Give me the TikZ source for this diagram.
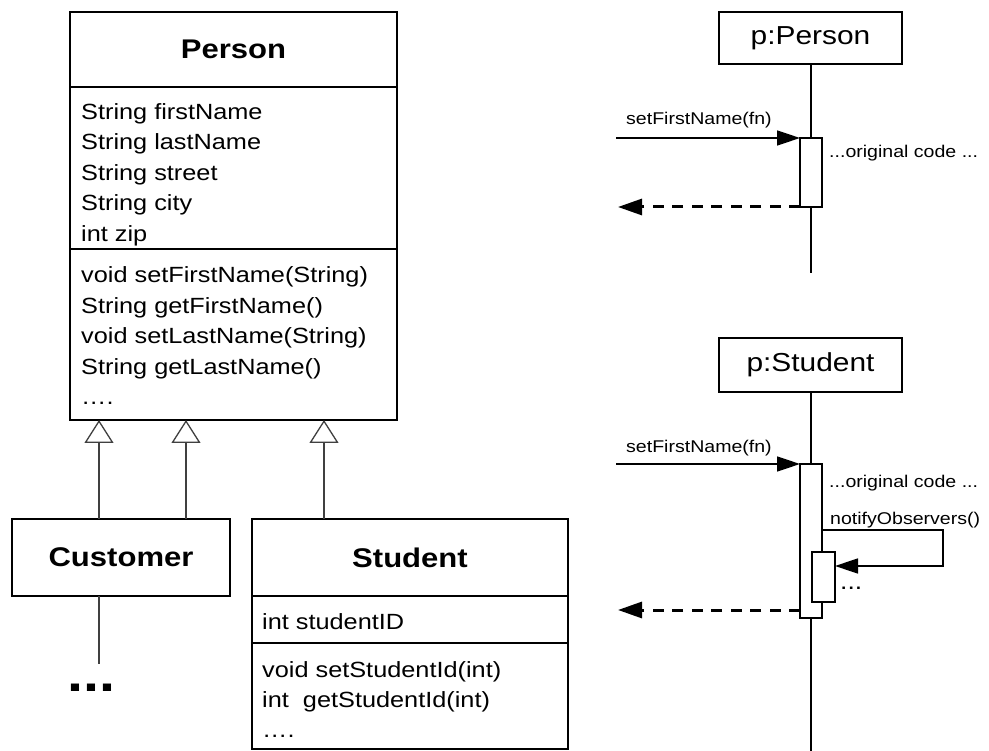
\documentclass[tikz,border=0pt]{standalone}
\usepackage{fontspec}
\setmainfont{Liberation Sans}[FakeStretch=1.15]
\usetikzlibrary{arrows.meta}

\begin{document}
\begin{tikzpicture}[x=1pt,y=-1pt,
  box/.style={draw=black, line width=1.5pt, fill=white, inner sep=0pt, outer sep=0pt},
  divider/.style={draw=black, line width=1.5pt},
  ctitle/.style={font=\bfseries\fontsize{27}{27}\selectfont, inner sep=0pt},
  member/.style={anchor=base west, inner sep=0pt, font=\fontsize{22}{22}\selectfont},
  gen/.style={draw=black!75, line width=1.3pt, -{Triangle[open, length=23pt, width=29pt, line width=1.3pt, fill=white]}},
  assoc/.style={draw=black!75, line width=1.3pt},
  obj/.style={box, minimum width=183pt, font=\fontsize{26}{26}\selectfont},
  act/.style={box, minimum width=22pt},
  life/.style={draw=black, line width=1.5pt},
  msg/.style={draw=black, line width=1.5pt, -{Triangle[length=23pt, width=15pt]}},
  ret/.style={draw=black, line width=3pt, dash pattern=on 11pt off 8.5pt, -{Triangle[length=24pt, width=16pt]}},
  lbl/.style={anchor=base west, inner sep=0pt, font=\fontsize{17}{17}\selectfont}]

\useasboundingbox (0,0) rectangle (989,751);

% ---------- class Person ----------
\node[box, anchor=north west, minimum width=327pt, minimum height=408pt] (person) at (70,12) {};
\node[ctitle] (personT) at (233.5,49.5) {Person};
\draw[divider] (person.west |- 0,87) -- (person.east |- 0,87);
\draw[divider] (person.west |- 0,249) -- (person.east |- 0,249);
\foreach \t [count=\i from 0] in {String firstName, String lastName, String street, String city, int zip}
  \node[member] (pattr\i) at (81,{119.5+30.5*\i}) {\t};
\foreach \t [count=\i from 0] in {void setFirstName(String), String getFirstName(), void setLastName(String), String getLastName(), ….}
  \node[member] (pop\i) at (81,{283+30.5*\i}) {\t};

% ---------- class Customer ----------
\node[box, anchor=north west, minimum width=218pt, minimum height=77pt] (cust) at (12,519) {};
\node[ctitle] (custT) at (cust.center) {Customer};
\coordinate (custEnd) at (99,664);
\draw[assoc] (cust.south -| custEnd) -- (custEnd);
\node[anchor=base west, inner sep=0pt, font=\bfseries\fontsize{50}{50}\selectfont] (more) at (67.5,691) {...};

% ---------- class Student ----------
\node[box, anchor=north west, minimum width=316pt, minimum height=230pt] (stud) at (252,519) {};
\node[ctitle] (studT) at (410,557.5) {Student};
\draw[divider] (stud.west |- 0,596) -- (stud.east |- 0,596);
\draw[divider] (stud.west |- 0,643) -- (stud.east |- 0,643);
\node[member] (sattr) at (262,629) {int studentID};
\foreach \t [count=\i from 0] in {void setStudentId(int), int\ \ getStudentId(int), ….}
  \node[member] (sop\i) at (262,{677+30*\i}) {\t};

% ---------- generalisations ----------
\draw[gen] ([xshift=87pt]cust.north west) -- ([xshift=87pt]cust.north west |- person.south);
\draw[gen] ([xshift=174pt]cust.north west) -- ([xshift=174pt]cust.north west |- person.south);
\draw[gen] ([xshift=72pt]stud.north west) -- ([xshift=72pt]stud.north west |- person.south);

% ---------- sequence: p:Person ----------
\node[obj, minimum height=52pt] (pp) at (810.5,38) {p:Person};
\coordinate (ppEnd) at (811,273);
\draw[life] (pp.south -| ppEnd) -- (ppEnd);
\node[act, minimum height=69pt] (ppAct) at (811,172.5) {};
\coordinate (ppIn) at (616,138);
\coordinate (ppOut) at (618,207);
\draw[msg] (ppIn) -- (ppAct.north west);
\node[lbl] (ppMsg) at (626,125) {setFirstName(fn)};
\node[lbl] (ppNote) at (829,158) {...original code ...};
\draw[ret] (ppAct.south west) -- (ppOut);

% ---------- sequence: p:Student ----------
\node[obj, minimum height=54pt] (ps) at (810.5,365) {p:Student};
\coordinate (psEnd) at (811,752);
\draw[life] (ps.south -| psEnd) -- (psEnd);
\node[act, minimum height=154pt] (psAct) at (811,541) {};
\node[act, minimum width=23pt, minimum height=50pt] (psNest) at (823.5,577) {};
\coordinate (psIn) at (616,464);
\coordinate (psOut) at (618,610);
\draw[msg] (psIn) -- (psAct.north west);
\node[lbl] (psMsg) at (626,453) {setFirstName(fn)};
\node[lbl] (psNote) at (829,488) {...original code ...};
\node[lbl] (psNotify) at (830,524) {notifyObservers()};
\coordinate (loopTop) at (943,530);
\coordinate (loopBot) at (943,566);
\draw[msg] (psAct.east |- loopTop) -- (loopTop) -- (loopBot) -- (psNest.east |- loopBot);
\node[anchor=base west, inner sep=0pt, font=\fontsize{23}{23}\selectfont] (psDots) at (840,589) {...};
\draw[ret] (psAct.west |- psOut) -- (psOut);
\end{tikzpicture}
\end{document}
